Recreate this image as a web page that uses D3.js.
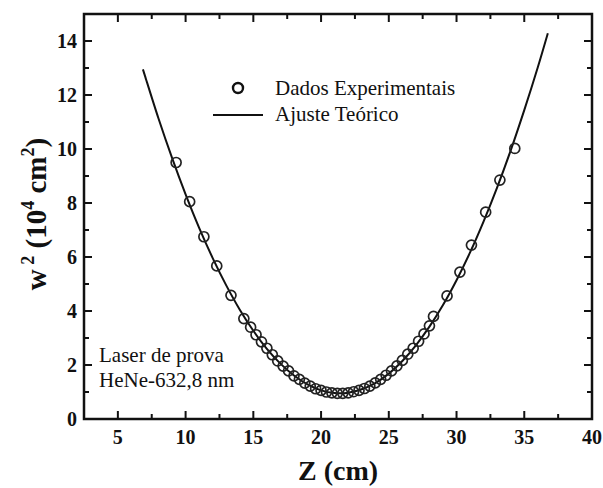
<!DOCTYPE html>
<html>
<head>
<meta charset="utf-8">
<script src="https://cdn.jsdelivr.net/npm/d3@7"></script>
<style>
  body { margin: 0; background: #fff; }
  text { font-family: "Liberation Serif", "Times New Roman", serif; fill: #111; }
</style>
</head>
<body>
<script>
// measured points, Z (cm) and w^2 (10^4 cm^2)
var zData = [9.3, 10.3, 11.35, 12.3, 13.35, 14.3,
             14.8, 15.2, 15.6, 16.0, 16.4, 16.8, 17.2, 17.6, 18.0, 18.4, 18.8,
             19.2, 19.6, 20.0, 20.4, 20.8, 21.2, 21.6, 22.0, 22.4, 22.8, 23.2,
             23.6, 24.0, 24.4, 24.8, 25.2, 25.6, 26.0, 26.4, 26.8, 27.2, 27.6, 28.0,
             28.3, 29.3, 30.25, 31.1, 32.15, 33.2, 34.3];
var w2Data = [9.5, 8.05, 6.75, 5.67, 4.58, 3.72,
              3.4, 3.12, 2.86, 2.62, 2.38, 2.15, 1.96, 1.78, 1.6, 1.47, 1.33,
              1.22, 1.12, 1.06, 1.0, 0.97, 0.95, 0.95, 0.97, 1.01, 1.06, 1.13,
              1.22, 1.34, 1.47, 1.62, 1.78, 1.97, 2.17, 2.4, 2.62, 2.88, 3.15, 3.45,
              3.8, 4.56, 5.44, 6.44, 7.66, 8.85, 10.02];

// fitted curve
var zFit = [6.85, 7, 8, 9, 10, 11, 12, 13, 14, 15, 16, 17, 18, 19, 20, 21, 22,
            23, 24, 25, 26, 27, 28, 29, 30, 31, 32, 33, 34, 35, 36, 36.74];
var w2Fit = [12.95, 12.71, 11.13, 9.67, 8.32, 7.08, 5.96, 4.95, 4.05, 3.27, 2.6,
             2.05, 1.61, 1.28, 1.06, 0.96, 0.97, 1.1, 1.33, 1.68, 2.15, 2.73, 3.42,
             4.22, 5.14, 6.17, 7.32, 8.58, 9.95, 11.44, 13.03, 14.29];

var xMajor = [5, 10, 15, 20, 25, 30, 35, 40];
var xMinor = [2.5, 7.5, 12.5, 17.5, 22.5, 27.5, 32.5, 37.5];
var yMajor = [0, 2, 4, 6, 8, 10, 12, 14];
var yMinor = [1, 3, 5, 7, 9, 11, 13, 15];

var width = 603,
    height = 488;

var svg = d3.select("body").append("svg")
            .attr("width", width)
            .attr("height", height);

var pLeft = 84, pRight = 592, pTop = 14, pBottom = 419;

var x = d3.scaleLinear().domain([2.5, 40]).range([pLeft, pRight]);
var y = d3.scaleLinear().domain([0, 15]).range([pBottom, pTop]);

// ticks, pointing inward on all four sides
var g = svg.append("g").attr("stroke", "#111").attr("stroke-width", 2);

function xTicks(vals, len) {
  vals.forEach(function (v) {
    g.append("line").attr("x1", x(v)).attr("x2", x(v)).attr("y1", pBottom).attr("y2", pBottom - len);
    g.append("line").attr("x1", x(v)).attr("x2", x(v)).attr("y1", pTop).attr("y2", pTop + len);
  });
}
function yTicks(vals, len) {
  vals.forEach(function (v) {
    g.append("line").attr("y1", y(v)).attr("y2", y(v)).attr("x1", pLeft).attr("x2", pLeft + len);
    g.append("line").attr("y1", y(v)).attr("y2", y(v)).attr("x1", pRight).attr("x2", pRight - len);
  });
}
xTicks(xMajor, 8); xTicks(xMinor, 5);
yTicks(yMajor, 8); yTicks(yMinor, 5);

svg.append("rect")
  .attr("x", pLeft).attr("y", pTop)
  .attr("width", pRight - pLeft).attr("height", pBottom - pTop)
  .attr("fill", "none").attr("stroke", "#111").attr("stroke-width", 2.5);

svg.selectAll(".xl")
  .data(xMajor)
  .enter().append("text")
  .attr("x", function (d) { return x(d); })
  .attr("y", 444)
  .attr("text-anchor", "middle")
  .style("font-size", "20px").style("font-weight", "bold")
  .text(function (d) { return d; });

svg.selectAll(".yl")
  .data(yMajor)
  .enter().append("text")
  .attr("x", 77)
  .attr("y", function (d) { return y(d) + 7; })
  .attr("text-anchor", "end")
  .style("font-size", "20px").style("font-weight", "bold")
  .text(function (d) { return d; });

// fit curve
var fit = zFit.map(function (d, i) { return [d, w2Fit[i]]; });
svg.append("path")
  .datum(fit)
  .attr("fill", "none")
  .attr("stroke", "#111")
  .attr("stroke-width", 2)
  .attr("d", d3.line()
    .x(function (d) { return x(d[0]); })
    .y(function (d) { return y(d[1]); })
    .curve(d3.curveCatmullRom));

// data points
svg.selectAll("circle.pt")
  .data(zData)
  .enter().append("circle")
  .attr("class", "pt")
  .attr("cx", function (d) { return x(d); })
  .attr("cy", function (d, i) { return y(w2Data[i]); })
  .attr("r", 5)
  .attr("fill", "none")
  .attr("stroke", "#222")
  .attr("stroke-width", 1.7);

// legend
svg.append("circle").attr("cx", 238).attr("cy", 88).attr("r", 5)
  .attr("fill", "none").attr("stroke", "#111").attr("stroke-width", 2.4);
svg.append("line").attr("x1", 213).attr("x2", 263).attr("y1", 115).attr("y2", 115)
  .attr("stroke", "#111").attr("stroke-width", 2.2);
svg.append("text").attr("x", 275).attr("y", 95).style("font-size", "21px").text("Dados Experimentais");
svg.append("text").attr("x", 275).attr("y", 121).style("font-size", "21px").text("Ajuste Teórico");

// note
svg.append("text").attr("x", 99).attr("y", 362).style("font-size", "21px").text("Laser de prova");
svg.append("text").attr("x", 99).attr("y", 387).style("font-size", "21px").text("HeNe-632,8 nm");

// axis titles
svg.append("text")
  .attr("x", 338).attr("y", 480)
  .attr("text-anchor", "middle")
  .style("font-size", "28px").style("font-weight", "bold")
  .text("Z (cm)");

var yt = svg.append("text")
  .attr("transform", "translate(46,214) rotate(-90)")
  .attr("text-anchor", "middle")
  .style("font-size", "29px").style("font-weight", "bold");
yt.append("tspan").text("w");
yt.append("tspan").attr("dy", -12).style("font-size", "18px").text(" 2");
yt.append("tspan").attr("dy", 12).text(" (10");
yt.append("tspan").attr("dy", -12).style("font-size", "18px").text("4");
yt.append("tspan").attr("dy", 12).text(" cm");
yt.append("tspan").attr("dy", -12).style("font-size", "18px").text("2");
yt.append("tspan").attr("dy", 12).text(")");
</script>
</body>
</html>
